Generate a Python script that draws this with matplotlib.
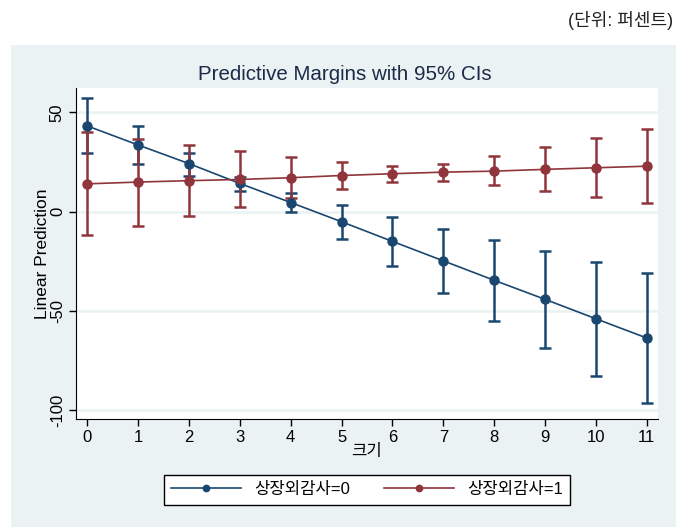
import matplotlib
matplotlib.use("Agg")
import matplotlib.pyplot as plt
from matplotlib.patches import Rectangle
import numpy as np

# data
size = [0, 1, 2, 3, 4, 5, 6, 7, 8, 9, 10, 11]
m0 = [43.2, 33.6, 24.2, 14.2, 4.6, -5.1, -15.0, -24.8, -34.6, -44.2, -54.0, -63.7]
m0_lo = [29.5, 23.8, 17.9, 10.6, -0.2, -13.7, -27.2, -40.9, -55.1, -68.7, -82.9, -96.6]
m0_hi = [57.2, 43.1, 29.7, 17.6, 9.3, 3.2, -2.9, -8.6, -14.2, -19.8, -25.2, -30.7]
m1 = [14.0, 14.9, 15.6, 16.2, 17.1, 18.2, 19.1, 19.9, 20.4, 21.3, 22.1, 22.9]
m1_lo = [-12.0, -7.4, -2.4, 2.2, 6.8, 11.2, 14.7, 15.4, 13.3, 10.3, 7.3, 4.2]
m1_hi = [39.9, 36.5, 33.6, 30.4, 27.4, 25.0, 23.0, 24.0, 28.0, 32.4, 37.0, 41.5]
labels = ["상장외감사=0", "상장외감사=1"]

BLUE = "#1a476f"
RED = "#90353b"
BG = "#eaf2f3"
FONT = ["Liberation Sans", "Noto Sans CJK KR", "DejaVu Sans"]
plt.rcParams["font.family"] = FONT

fig = plt.figure(figsize=(6.95, 5.27), dpi=100)
fig.patches.append(Rectangle((11 / 695, 0), (676 - 11) / 695, 1 - 45 / 527,
                             transform=fig.transFigure, facecolor=BG,
                             edgecolor="none", zorder=-10))
fig.text(673 / 695, 1 - 21 / 527, "(단위: 퍼센트)", ha="right", va="center",
         fontsize=13, color="#222222")
fig.text(345 / 695, 1 - 75 / 527, "Predictive Margins with 95% CIs",
         ha="center", va="center", fontsize=14.8, color="#1c2a48")

ax = fig.add_axes([76 / 695, 1 - 419 / 527, 582 / 695, 331 / 527])
ax.set_zorder(1)
ax.set_facecolor("white")

x = np.array(size)
for m, lo, hi, c, lab in [(m0, m0_lo, m0_hi, BLUE, labels[0]),
                          (m1, m1_lo, m1_hi, RED, labels[1])]:
    m = np.array(m)
    err = [m - np.array(lo), np.array(hi) - m]
    ax.errorbar(x, m, yerr=err, fmt="none", ecolor=c, elinewidth=1.8,
                capsize=4.5, capthick=1.8, zorder=3)
    ax.plot(x, m, "-o", color=c, lw=1.2, ms=6.5, label=lab, zorder=4)

ax.set_xlim(-0.22, 11.22)
ax.set_ylim(-104.5, 62.3)
ax.set_xticks(size)
ax.set_yticks([-100, -50, 0, 50])
ax.set_yticklabels(["-100", "-50", "0", "50"], rotation=90, va="center")
ax.grid(axis="y", color=BG, lw=1.8)
ax.set_axisbelow(True)
for s in ["top", "right"]:
    ax.spines[s].set_visible(False)
ax.tick_params(direction="out", length=5, width=1, labelsize=12, pad=3)

ax.set_xlabel("크기", fontsize=12, labelpad=-1)
ax.set_ylabel("Linear Prediction", fontsize=12.5, labelpad=0)

h, l = ax.get_legend_handles_labels()
leg = fig.legend(h, l, loc="center", ncol=2, fontsize=12,
                 bbox_to_anchor=(367 / 695, 1 - 489.5 / 527),
                 frameon=True, fancybox=False, edgecolor="black",
                 framealpha=1, handlelength=4.2, columnspacing=2.0,
                 borderpad=0.45, markerscale=0.7)
leg.get_frame().set_linewidth(1)

fig.savefig("out.png", dpi=100)
